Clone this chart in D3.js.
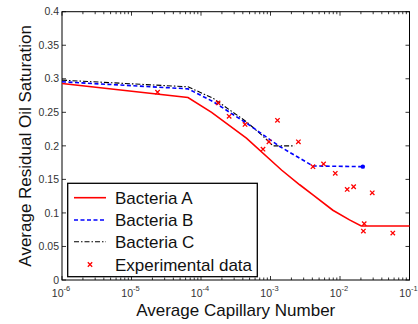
<!DOCTYPE html>
<html><head><meta charset="utf-8">
<script src="https://cdn.jsdelivr.net/npm/d3@7"></script>
<style>body{margin:0;background:#fff;} svg{display:block;}</style>
</head><body>
<svg id="c" width="418" height="324"></svg>
<script>
const aX = [1e-6, 6.5e-5, 1.42e-4, 4.5e-4, 1.44e-3, 2.63e-3, 4.08e-3, 7.9e-3, 1.37e-2, 2.02e-2, 1e-1];
const aY = [0.293, 0.272, 0.250, 0.2115, 0.164, 0.142, 0.127, 0.104, 0.0896, 0.0806, 0.0806];
const bX = [1e-6, 6.5e-5, 1.49e-4, 4.5e-4, 1.36e-3, 4.08e-3, 2.13e-2];
const bY = [0.2955, 0.285, 0.266, 0.234, 0.199, 0.170, 0.169];
const cX = [1e-6, 6.5e-5, 1.49e-4, 4.5e-4, 7.5e-4, 1.09e-3, 2.23e-3];
const cY = [0.298, 0.288, 0.271, 0.236, 0.216, 0.200, 0.200];
const expX = [2.37e-5, 1.76e-4, 2.54e-4, 4.3e-4, 7.8e-4, 9.5e-4, 1.26e-3, 2.52e-3, 4.08e-3, 5.8e-3, 8.55e-3, 1.27e-2, 1.57e-2, 2.91e-2, 2.23e-2, 2.17e-2, 5.75e-2];
const expY = [0.280, 0.264, 0.244, 0.232, 0.195, 0.206, 0.238, 0.206, 0.169, 0.173, 0.159, 0.135, 0.139, 0.130, 0.084, 0.073, 0.070];
const yTicks = [0, 0.05, 0.1, 0.15, 0.2, 0.25, 0.3, 0.35, 0.4];
const yTickLabels = ["0", "0.05", "0.1", "0.15", "0.2", "0.25", "0.3", "0.35", "0.4"];
const xTickExps = [-6, -5, -4, -3, -2, -1];
const legendLabels = ["Bacteria A", "Bacteria B", "Bacteria C", "Experimental data"];

const L = 62, R = 409.5, T = 11.7, B = 280;
const svg = d3.select("#c");
const x = d3.scaleLog().domain([1e-6, 1e-1]).range([L, R]);
const y = d3.scaleLinear().domain([0, 0.4]).range([B, T]);
const font = "Liberation Sans, Arial, sans-serif";

// ticks (inside), box
const g = svg.append("g");
const minor = [];
for (let e = -6; e < -1; e++) for (let k = 2; k <= 9; k++) minor.push(k * Math.pow(10, e));
const tk = g.append("g").attr("stroke", "#000").attr("stroke-width", 0.8);
minor.forEach(v => {
  tk.append("line").attr("x1", x(v)).attr("x2", x(v)).attr("y1", B).attr("y2", B - 2.5);
  tk.append("line").attr("x1", x(v)).attr("x2", x(v)).attr("y1", T).attr("y2", T + 2.5);
});
xTickExps.forEach(e => {
  const v = Math.pow(10, e);
  tk.append("line").attr("x1", x(v)).attr("x2", x(v)).attr("y1", B).attr("y2", B - 4);
  tk.append("line").attr("x1", x(v)).attr("x2", x(v)).attr("y1", T).attr("y2", T + 4);
});
yTicks.forEach(v => {
  tk.append("line").attr("x1", L).attr("x2", L + 4).attr("y1", y(v)).attr("y2", y(v));
  tk.append("line").attr("x1", R).attr("x2", R - 4).attr("y1", y(v)).attr("y2", y(v));
});
g.append("rect").attr("x", L).attr("y", T).attr("width", R - L).attr("height", B - T)
  .attr("fill", "none").attr("stroke", "#000").attr("stroke-width", 1);

// tick labels
yTicks.forEach((v, i) => {
  svg.append("text").attr("x", L - 3).attr("y", y(v)).attr("dy", "0.35em")
    .attr("text-anchor", "end").attr("font-family", font).attr("font-size", 10.5)
    .attr("fill", "#333").text(yTickLabels[i]);
});
xTickExps.forEach(e => {
  const t = svg.append("text").attr("x", x(Math.pow(10, e)) - 1).attr("y", 297)
    .attr("text-anchor", "middle").attr("font-family", font).attr("font-size", 10.5).attr("fill", "#333");
  t.append("tspan").text("10");
  t.append("tspan").attr("dy", -6).attr("font-size", 7.5).text(String(e));
});

// axis labels
svg.append("text").attr("x", (L + R) / 2).attr("y", 316).attr("text-anchor", "middle")
  .attr("font-family", font).attr("font-size", 17).attr("fill", "#111").text("Average Capillary Number");
svg.append("text").attr("transform", `translate(31,${(T + B) / 2}) rotate(-90)`)
  .attr("text-anchor", "middle").attr("font-family", font).attr("font-size", 17).attr("fill", "#111")
  .text("Average Residual Oil Saturation");

// lines
const line = d3.line().x(d => x(d[0])).y(d => y(d[1]));
svg.append("path").datum(aX.map((v, i) => [v, aY[i]])).attr("d", line)
  .attr("fill", "none").attr("stroke", "#ff0000").attr("stroke-width", 1.6);
svg.append("path").datum(cX.map((v, i) => [v, cY[i]])).attr("d", line)
  .attr("fill", "none").attr("stroke", "#000").attr("stroke-width", 1.1).attr("stroke-dasharray", "5,2,1.5,2");
svg.append("path").datum(bX.map((v, i) => [v, bY[i]])).attr("d", line)
  .attr("fill", "none").attr("stroke", "#0000ff").attr("stroke-width", 1.6).attr("stroke-dasharray", "4,2.5");
svg.append("circle").attr("cx", x(bX[bX.length - 1])).attr("cy", y(bY[bY.length - 1])).attr("r", 2.2).attr("fill", "#0000ff");

function xMark(sel, cx, cy) {
  const s = 2.2;
  sel.append("path").attr("d", `M${cx - s},${cy - s}L${cx + s},${cy + s}M${cx - s},${cy + s}L${cx + s},${cy - s}`)
    .attr("stroke", "#ff0000").attr("stroke-width", 1.3).attr("fill", "none");
}
expX.forEach((v, i) => xMark(svg, x(v), y(expY[i])));

// legend
const lg = svg.append("g");
lg.append("rect").attr("x", 67.7).attr("y", 183.3).attr("width", 189.6).attr("height", 93.4)
  .attr("fill", "#fff").attr("stroke", "#000").attr("stroke-width", 1.3);
const ly = [197.7, 220, 241.7, 264.5];
const styles = [
  {c: "#ff0000", w: 1.6, d: null},
  {c: "#0000ff", w: 1.6, d: "4,2.5"},
  {c: "#000", w: 1.1, d: "5,2,1.5,2"}
];
styles.forEach((s, i) => {
  lg.append("line").attr("x1", 74).attr("x2", 106).attr("y1", ly[i]).attr("y2", ly[i])
    .attr("stroke", s.c).attr("stroke-width", s.w).attr("stroke-dasharray", s.d);
});
xMark(lg, 90, ly[3]);
legendLabels.forEach((t, i) => {
  lg.append("text").attr("x", 115).attr("y", ly[i]).attr("dy", "0.36em")
    .attr("font-family", font).attr("font-size", 17).attr("fill", "#111").text(t);
});
</script>
</body></html>
